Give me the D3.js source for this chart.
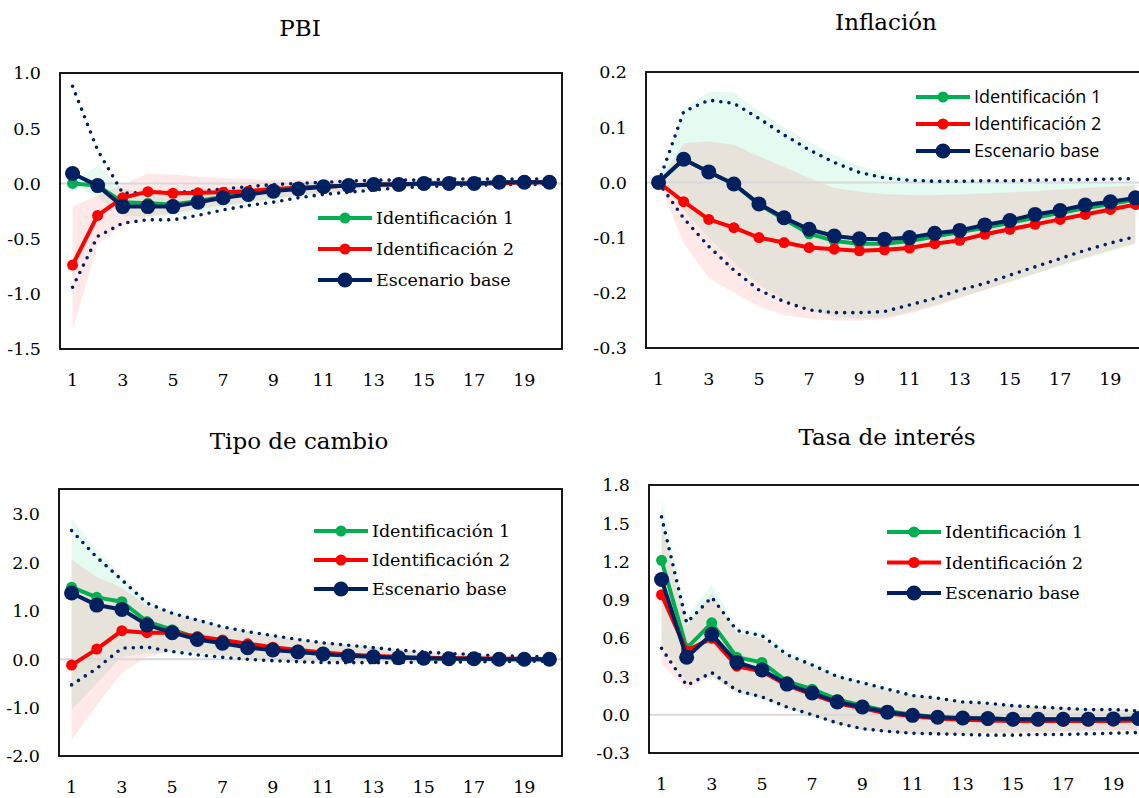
<!DOCTYPE html>
<html>
<head>
<meta charset="utf-8">
<script src="https://cdn.jsdelivr.net/npm/d3@7"></script>
<style>
  body { margin: 0; background: #fff; }
  svg { display: block; }
</style>
</head>
<body>
<svg id="chart" width="1139" height="798"></svg>
<script>
// periods on the x axis and the labels that are shown
const periods = [1, 2, 3, 4, 5, 6, 7, 8, 9, 10, 11, 12, 13, 14, 15, 16, 17, 18, 19, 20];
const xTickLabels = [1, 3, 5, 7, 9, 11, 13, 15, 17, 19];
const seriesNames = ['Identificación 1', 'Identificación 2', 'Escenario base'];

// PBI
const pbiTicks = [-1.5, -1.0, -0.5, 0.0, 0.5, 1.0];
const pbiId1 = [0.0, -0.02, -0.17, -0.18, -0.19, -0.16, -0.12, -0.09, -0.06, -0.04, -0.03, -0.02, -0.01, -0.01, 0.0, 0.0, 0.0, 0.01, 0.01, 0.01];
const pbiId2 = [-0.74, -0.29, -0.13, -0.075, -0.09, -0.085, -0.08, -0.07, -0.05, -0.04, -0.03, -0.02, -0.01, -0.01, 0.0, 0.0, 0.0, 0.0, 0.01, 0.01];
const pbiBase = [0.09, -0.02, -0.21, -0.21, -0.21, -0.17, -0.13, -0.10, -0.07, -0.05, -0.03, -0.02, -0.01, -0.01, 0.0, 0.0, 0.0, 0.01, 0.01, 0.01];
const pbiBaseUpper = [0.88, 0.30, -0.09, -0.08, -0.08, -0.07, -0.05, -0.03, -0.01, 0.0, 0.01, 0.02, 0.03, 0.03, 0.03, 0.04, 0.04, 0.04, 0.04, 0.04];
const pbiBaseLower = [-0.94, -0.48, -0.36, -0.33, -0.33, -0.29, -0.24, -0.20, -0.17, -0.13, -0.10, -0.08, -0.06, -0.04, -0.03, -0.02, -0.02, -0.01, -0.01, -0.01];
const pbiId1Upper = [0.02, 0.16, -0.05, -0.08, -0.08, -0.06, -0.04, -0.03, -0.02, -0.01, 0.0, 0.01, 0.02, 0.02, 0.03, 0.03, 0.03, 0.03, 0.03, 0.03];
const pbiId1Lower = [-0.02, -0.12, -0.30, -0.30, -0.29, -0.26, -0.22, -0.18, -0.15, -0.12, -0.09, -0.07, -0.05, -0.04, -0.03, -0.02, -0.02, -0.01, -0.01, -0.01];
const pbiId2Upper = [-0.21, -0.11, -0.01, 0.09, 0.08, 0.06, 0.05, 0.04, 0.03, 0.03, 0.03, 0.03, 0.03, 0.03, 0.03, 0.03, 0.03, 0.03, 0.03, 0.03];
const pbiId2Lower = [-1.33, -0.55, -0.38, -0.30, -0.27, -0.23, -0.20, -0.17, -0.14, -0.11, -0.09, -0.07, -0.05, -0.04, -0.03, -0.02, -0.02, -0.01, -0.01, -0.01];

// Inflación
const infTicks = [-0.3, -0.2, -0.1, 0.0, 0.1, 0.2];
const infId1 = [0, 0.042, 0.019, -0.003, -0.040, -0.067, -0.093, -0.106, -0.111, -0.111, -0.106, -0.098, -0.090, -0.082, -0.073, -0.064, -0.055, -0.047, -0.039, -0.031];
const infId2 = [0, -0.035, -0.067, -0.082, -0.100, -0.109, -0.118, -0.121, -0.124, -0.122, -0.119, -0.111, -0.105, -0.094, -0.085, -0.076, -0.067, -0.058, -0.049, -0.040];
const infBase = [0, 0.042, 0.019, -0.003, -0.039, -0.064, -0.085, -0.097, -0.102, -0.103, -0.100, -0.092, -0.087, -0.077, -0.069, -0.058, -0.051, -0.041, -0.035, -0.028];
const infBaseUpper = [0, 0.128, 0.149, 0.143, 0.116, 0.086, 0.059, 0.036, 0.018, 0.008, 0.004, 0.002, 0.002, 0.003, 0.003, 0.004, 0.005, 0.005, 0.006, 0.007];
const infBaseLower = [0, -0.065, -0.116, -0.159, -0.195, -0.216, -0.231, -0.236, -0.236, -0.234, -0.222, -0.210, -0.195, -0.183, -0.168, -0.153, -0.138, -0.123, -0.110, -0.098];
const infId1Upper = [0, 0.135, 0.164, 0.163, 0.130, 0.100, 0.073, 0.050, 0.030, 0.017, 0.010, 0.007, 0.005, 0.004, 0.003, 0.002, 0.002, 0.001, 0.001, 0.001];
const infId1Lower = [0, -0.050, -0.100, -0.145, -0.185, -0.212, -0.232, -0.243, -0.247, -0.245, -0.235, -0.222, -0.208, -0.195, -0.180, -0.166, -0.152, -0.138, -0.125, -0.112];
const infId2Upper = [0, 0.071, 0.074, 0.068, 0.047, 0.028, 0.008, -0.010, -0.017, -0.021, -0.023, -0.023, -0.022, -0.020, -0.018, -0.016, -0.013, -0.010, -0.008, -0.005];
const infId2Lower = [0, -0.110, -0.173, -0.200, -0.225, -0.240, -0.247, -0.250, -0.250, -0.248, -0.238, -0.225, -0.210, -0.195, -0.180, -0.165, -0.150, -0.136, -0.123, -0.110];

// Tipo de cambio
const tcTicks = [-2.0, -1.0, 0.0, 1.0, 2.0, 3.0];
const tcId1 = [1.49, 1.28, 1.19, 0.78, 0.61, 0.44, 0.35, 0.27, 0.21, 0.15, 0.11, 0.08, 0.05, 0.03, 0.02, 0.01, 0.01, 0.0, 0.0, 0.0];
const tcId2 = [-0.12, 0.21, 0.59, 0.55, 0.55, 0.47, 0.40, 0.32, 0.25, 0.19, 0.14, 0.10, 0.07, 0.05, 0.03, 0.02, 0.02, 0.01, 0.01, 0.0];
const tcBase = [1.37, 1.12, 1.03, 0.71, 0.55, 0.41, 0.33, 0.24, 0.19, 0.15, 0.11, 0.07, 0.05, 0.03, 0.02, 0.01, 0.01, 0.0, 0.0, 0.0];
const tcBaseUpper = [2.66, 2.11, 1.64, 1.16, 0.95, 0.81, 0.67, 0.57, 0.49, 0.41, 0.34, 0.29, 0.24, 0.19, 0.15, 0.12, 0.10, 0.07, 0.06, 0.05];
const tcBaseLower = [-0.53, -0.19, 0.23, 0.25, 0.16, 0.09, 0.04, 0.0, -0.03, -0.05, -0.07, -0.07, -0.07, -0.07, -0.06, -0.06, -0.05, -0.05, -0.04, -0.04];
const tcId1Upper = [2.92, 2.25, 1.72, 1.22, 1.00, 0.84, 0.70, 0.59, 0.50, 0.42, 0.35, 0.30, 0.25, 0.20, 0.16, 0.13, 0.10, 0.08, 0.06, 0.05];
const tcId1Lower = [-1.05, -0.50, 0.05, 0.12, 0.12, 0.07, 0.03, 0.0, -0.03, -0.05, -0.06, -0.06, -0.06, -0.06, -0.06, -0.05, -0.05, -0.04, -0.04, -0.04];
const tcId2Upper = [2.06, 1.70, 1.48, 1.10, 0.95, 0.80, 0.66, 0.56, 0.48, 0.40, 0.34, 0.29, 0.24, 0.19, 0.15, 0.12, 0.10, 0.08, 0.06, 0.05];
const tcId2Lower = [-1.67, -0.95, -0.28, 0.05, 0.18, 0.14, 0.08, 0.03, -0.01, -0.04, -0.05, -0.06, -0.06, -0.06, -0.06, -0.05, -0.05, -0.04, -0.04, -0.04];

// Tasa de interés
const tiTicks = [-0.3, 0.0, 0.3, 0.6, 0.9, 1.2, 1.5, 1.8];
const tiId1 = [1.21, 0.52, 0.72, 0.45, 0.41, 0.26, 0.20, 0.12, 0.07, 0.03, 0.0, -0.02, -0.03, -0.03, -0.035, -0.035, -0.035, -0.035, -0.035, -0.03];
const tiId2 = [0.94, 0.50, 0.60, 0.38, 0.34, 0.23, 0.16, 0.09, 0.05, 0.01, -0.01, -0.03, -0.04, -0.045, -0.05, -0.05, -0.05, -0.05, -0.05, -0.045];
const tiBase = [1.06, 0.45, 0.63, 0.41, 0.35, 0.24, 0.17, 0.10, 0.06, 0.02, -0.005, -0.02, -0.026, -0.03, -0.035, -0.035, -0.035, -0.035, -0.033, -0.03];
const tiBaseUpper = [1.55, 0.72, 0.92, 0.66, 0.62, 0.47, 0.39, 0.30, 0.25, 0.20, 0.15, 0.13, 0.10, 0.09, 0.07, 0.06, 0.05, 0.04, 0.04, 0.03];
const tiBaseLower = [0.52, 0.23, 0.33, 0.19, 0.14, 0.06, 0.0, -0.065, -0.11, -0.13, -0.145, -0.15, -0.155, -0.16, -0.16, -0.155, -0.155, -0.15, -0.145, -0.14];
const tiId1Upper = [1.69, 0.76, 1.02, 0.68, 0.65, 0.50, 0.42, 0.32, 0.26, 0.21, 0.16, 0.13, 0.11, 0.09, 0.08, 0.07, 0.06, 0.05, 0.04, 0.04];
const tiId1Lower = [0.55, 0.26, 0.30, 0.17, 0.12, 0.04, -0.02, -0.08, -0.12, -0.14, -0.15, -0.15, -0.15, -0.14, -0.14, -0.13, -0.13, -0.12, -0.12, -0.12];
const tiId2Upper = [1.50, 0.70, 0.95, 0.64, 0.60, 0.46, 0.38, 0.30, 0.24, 0.19, 0.15, 0.12, 0.10, 0.08, 0.07, 0.06, 0.05, 0.04, 0.04, 0.03];
const tiId2Lower = [0.40, 0.20, 0.30, 0.17, 0.13, 0.05, -0.01, -0.07, -0.12, -0.14, -0.15, -0.155, -0.155, -0.15, -0.15, -0.14, -0.14, -0.13, -0.13, -0.12];

const green = '#00b050';
const red = '#ff0000';
const navy = '#002060';

const panels = [
  { title: 'PBI', titleX: 300, titleY: 36, left: 60, top: 73, width: 502, height: 276,
    yDomain: [-1.5, 1.0], ticks: pbiTicks,
    id1: pbiId1, id2: pbiId2, base: pbiBase, baseUp: pbiBaseUpper, baseLo: pbiBaseLower,
    id1Up: pbiId1Upper, id1Lo: pbiId1Lower, id2Up: pbiId2Upper, id2Lo: pbiId2Lower,
    legend: { x: 318, y: 218, gap: 31, font: 'DejaVu Serif', size: 17.5 } },
  { title: 'Inflación', titleX: 886, titleY: 30, left: 646, top: 72, width: 502, height: 276,
    yDomain: [-0.3, 0.2], ticks: infTicks,
    id1: infId1, id2: infId2, base: infBase, baseUp: infBaseUpper, baseLo: infBaseLower,
    id1Up: infId1Upper, id1Lo: infId1Lower, id2Up: infId2Upper, id2Lo: infId2Lower,
    legend: { x: 916, y: 97, gap: 27, font: 'Open Sans', size: 18 } },
  { title: 'Tipo de cambio', titleX: 299, titleY: 449, left: 59, top: 489, width: 503, height: 267,
    yDomain: [-2.0, 3.52], ticks: tcTicks,
    id1: tcId1, id2: tcId2, base: tcBase, baseUp: tcBaseUpper, baseLo: tcBaseLower,
    id1Up: tcId1Upper, id1Lo: tcId1Lower, id2Up: tcId2Upper, id2Lo: tcId2Lower,
    legend: { x: 314, y: 531, gap: 29, font: 'DejaVu Serif', size: 17.5 } },
  { title: 'Tasa de interés', titleX: 887, titleY: 445, left: 649, top: 485, width: 502, height: 268,
    yDomain: [-0.3, 1.8], ticks: tiTicks,
    id1: tiId1, id2: tiId2, base: tiBase, baseUp: tiBaseUpper, baseLo: tiBaseLower,
    id1Up: tiId1Upper, id1Lo: tiId1Lower, id2Up: tiId2Upper, id2Lo: tiId2Lower,
    legend: { x: 887, y: 532, gap: 30.5, font: 'DejaVu Serif', size: 17.5 } }
];

const svg = d3.select('#chart');
const tickFormat = d => d3.format('.1f')(d).replace('\u2212', '-');

panels.forEach(p => {
  const g = svg.append('g');

  const xScale = d3.scaleBand()
    .domain(periods)
    .range([p.left, p.left + p.width]);
  const xPos = d => xScale(d) + xScale.bandwidth() / 2;

  const yScale = d3.scaleLinear()
    .domain(p.yDomain)
    .range([p.top + p.height, p.top]);

  // title
  g.append('text')
    .attr('x', p.titleX)
    .attr('y', p.titleY)
    .attr('text-anchor', 'middle')
    .style('font-family', "'DejaVu Serif', serif")
    .style('font-size', '23px')
    .attr('fill', '#000')
    .text(p.title);

  // confidence bands
  const band = (up, lo) => d3.area()
    .x((d, i) => xPos(periods[i]))
    .y0((d, i) => yScale(lo[i]))
    .y1((d, i) => yScale(up[i]))(periods);

  g.append('path')
    .attr('d', band(p.id1Up, p.id1Lo))
    .attr('fill', 'rgb(0,210,110)')
    .attr('fill-opacity', 0.1);
  g.append('path')
    .attr('d', band(p.id2Up, p.id2Lo))
    .attr('fill', 'rgb(255,0,0)')
    .attr('fill-opacity', 0.09);

  // zero line
  g.append('line')
    .attr('x1', p.left)
    .attr('x2', p.left + p.width)
    .attr('y1', yScale(0))
    .attr('y2', yScale(0))
    .attr('stroke', '#d9d9d9')
    .attr('stroke-width', 2);

  const line = d3.line()
    .x((d, i) => xPos(periods[i]))
    .y(d => yScale(d));

  // dotted bounds of the base scenario
  [p.baseUp, p.baseLo].forEach(arr => {
    g.append('path')
      .attr('d', line(arr))
      .attr('fill', 'none')
      .attr('stroke', navy)
      .attr('stroke-width', 3.6)
      .attr('stroke-linecap', 'round')
      .attr('stroke-dasharray', '0 8.2');
  });

  // series lines with markers
  const series = [
    { values: p.id1, color: green, r: 5.5 },
    { values: p.id2, color: red, r: 5.5 },
    { values: p.base, color: navy, r: 7.5 }
  ];
  series.forEach(s => {
    g.append('path')
      .attr('d', line(s.values))
      .attr('fill', 'none')
      .attr('stroke', s.color)
      .attr('stroke-width', 4)
      .attr('stroke-linejoin', 'round');
    g.selectAll(null)
      .data(s.values)
      .enter()
      .append('circle')
      .attr('cx', (d, i) => xPos(periods[i]))
      .attr('cy', d => yScale(d))
      .attr('r', s.r)
      .attr('fill', s.color);
  });

  // frame
  g.append('rect')
    .attr('x', p.left)
    .attr('y', p.top)
    .attr('width', p.width)
    .attr('height', p.height)
    .attr('fill', 'none')
    .attr('stroke', '#000')
    .attr('stroke-width', 1.8);

  // y tick labels
  g.selectAll(null)
    .data(p.ticks)
    .enter()
    .append('text')
    .attr('x', p.left - 19)
    .attr('y', d => yScale(d))
    .attr('dy', '0.36em')
    .attr('text-anchor', 'end')
    .style('font-family', "'DejaVu Serif', serif")
    .style('font-size', '17.5px')
    .text(tickFormat);

  // x tick labels
  g.selectAll(null)
    .data(xTickLabels)
    .enter()
    .append('text')
    .attr('x', d => xPos(d))
    .attr('y', p.top + p.height + 37)
    .attr('text-anchor', 'middle')
    .style('font-family', "'DejaVu Serif', serif")
    .style('font-size', '17.5px')
    .text(d => d);

  // legend
  const legend = g.append('g');
  series.forEach((s, i) => {
    const ly = p.legend.y + i * p.legend.gap;
    legend.append('line')
      .attr('x1', p.legend.x)
      .attr('x2', p.legend.x + 54)
      .attr('y1', ly)
      .attr('y2', ly)
      .attr('stroke', s.color)
      .attr('stroke-width', 4);
    legend.append('circle')
      .attr('cx', p.legend.x + 27)
      .attr('cy', ly)
      .attr('r', s.r)
      .attr('fill', s.color);
    legend.append('text')
      .attr('x', p.legend.x + 58)
      .attr('y', ly)
      .attr('dy', '0.36em')
      .style('font-family', p.legend.font)
      .style('font-size', p.legend.size + 'px')
      .text(seriesNames[i]);
  });
});
</script>
</body>
</html>
